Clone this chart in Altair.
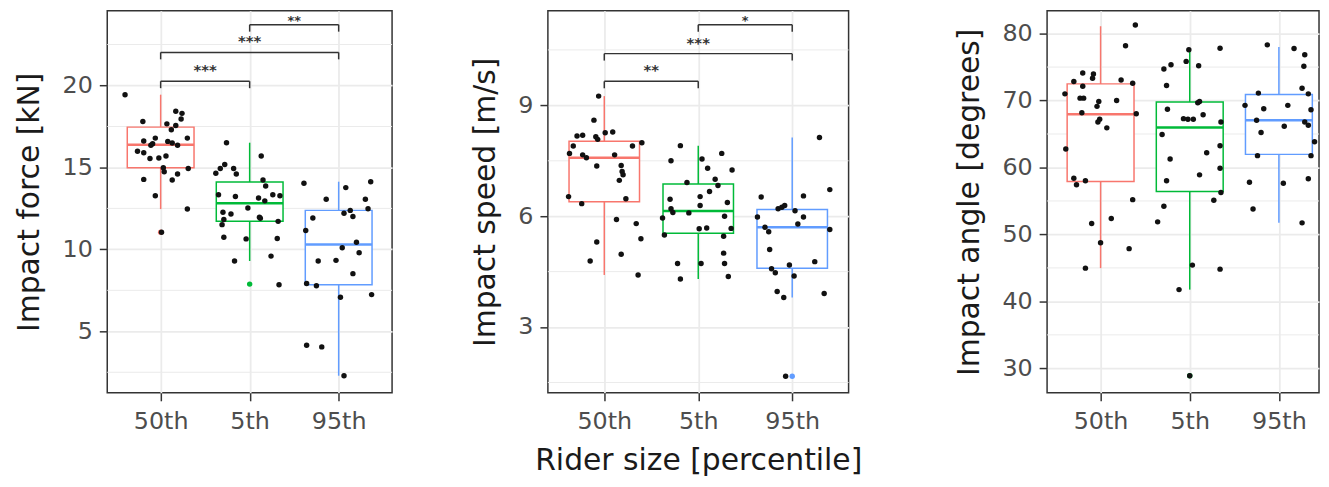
import altair as alt
import pandas as pd

GROUPS = ["50th", "5th", "95th"]
GROUP_COLORS = ["#F8766D", "#00BA38", "#619CFF"]
FONT = "DejaVu Sans"

# ---------------- Panel 1: Impact force [kN] ----------------
force_50_values = [19.44, 18.43, 18.30, 17.96, 17.80, 17.66, 17.56, 17.30, 16.79, 16.79,
                   16.61, 16.45, 16.35, 16.59, 16.49, 16.35, 15.99, 15.90, 15.54, 15.58,
                   15.70, 14.98, 14.74, 14.94, 14.60, 14.23, 14.27, 13.27, 12.46, 11.05]
force_50_jitter = [-0.40, 0.17, 0.24, 0.23, -0.20, 0.07, 0.17, 0.12, 0.30, -0.06,
                   -0.19, -0.09, -0.11, 0.08, 0.13, 0.19, -0.26, -0.19, -0.12, -0.02,
                   0.06, 0.03, 0.04, 0.31, 0.19, 0.13, -0.19, -0.06, 0.30, 0.01]
force_5_values = [16.51, 15.70, 15.18, 14.94, 14.64, 14.94, 14.60, 14.23, 13.87, 13.33,
                  13.23, 13.13, 12.96, 13.33, 13.27, 12.52, 12.26, 12.16, 11.82, 11.51,
                  11.96, 11.90, 11.71, 10.74, 10.64, 10.66, 9.59, 9.29, 7.84]
force_5_jitter = [-0.26, 0.13, -0.28, -0.33, -0.38, -0.18, -0.15, 0.15, 0.18, -0.35,
                  -0.16, 0.10, 0.17, 0.26, 0.34, -0.02, -0.30, -0.21, -0.29, -0.31,
                  0.11, 0.12, 0.32, -0.29, -0.04, 0.31, 0.24, -0.17, 0.33]
force_95_values = [14.03, 13.77, 14.13, 13.06, 13.06, 12.21, 12.38, 12.01, 12.48, 11.91,
                   11.15, 10.44, 10.10, 9.80, 9.29, 9.33, 8.52, 7.92, 7.78, 7.08,
                   7.24, 4.15, 4.05, 2.29]
force_95_jitter = [-0.39, 0.08, 0.36, -0.14, 0.30, 0.06, 0.13, 0.16, 0.33, -0.29,
                   -0.37, 0.20, 0.04, 0.23, -0.23, -0.03, 0.16, -0.36, -0.25, 0.02,
                   0.37, -0.36, -0.19, 0.06]
force_box_lower = [12.46, 9.29, 2.29]
force_box_q1 = [14.98, 11.71, 7.84]
force_box_median = [16.39, 12.82, 10.30]
force_box_q3 = [17.46, 14.11, 12.38]
force_box_upper = [19.44, 16.51, 14.13]
force_outlier_groups = ["50th", "5th"]
force_outlier_values = [11.05, 7.88]
force_bracket_from = ["50th", "50th", "5th"]
force_bracket_to = ["5th", "95th", "95th"]
force_bracket_y = [20.26, 22.02, 23.71]
force_bracket_labels = ["***", "***", "**"]
force_y_ticks = [5, 10, 15, 20]
force_y_minor = [2.5, 7.5, 12.5, 17.5, 22.5]
force_y_domain = [1.245, 24.56]

# ---------------- Panel 2: Impact speed [m/s] ----------------
speed_50_values = [9.25, 8.60, 8.17, 8.19, 8.15, 8.08, 8.26, 8.28, 7.90, 7.90,
                   7.99, 7.70, 7.66, 7.58, 7.66, 7.36, 7.37, 7.21, 7.12, 6.97,
                   6.53, 6.47, 6.34, 5.91, 5.80, 5.39, 5.30, 4.97, 4.79, 4.41]
speed_50_jitter = [-0.06, -0.11, -0.29, -0.23, -0.09, -0.07, 0.01, 0.09, -0.33, 0.30,
                   0.40, -0.37, -0.23, -0.19, 0.11, -0.08, 0.18, 0.19, 0.20, 0.16,
                   -0.38, 0.23, -0.24, 0.13, 0.34, 0.39, -0.08, 0.18, -0.15, 0.36]
speed_5_values = [7.91, 7.50, 7.55, 7.70, 7.30, 7.25, 7.00, 6.83, 6.91, 6.67,
                  6.53, 6.46, 6.37, 6.29, 6.20, 6.10, 6.09, 5.95, 6.00, 5.66,
                  5.68, 5.67, 5.49, 5.46, 5.00, 4.72, 4.72, 4.72, 4.30, 4.37]
speed_5_jitter = [-0.19, -0.29, 0.04, 0.25, 0.10, 0.36, 0.18, 0.21, -0.12, 0.12,
                  0.02, -0.30, 0.31, 0.02, -0.29, -0.27, -0.10, -0.38, 0.28, 0.01,
                  0.09, 0.35, -0.36, 0.27, 0.27, -0.22, 0.03, 0.28, -0.19, 0.32]
speed_95_values = [8.13, 6.72, 6.52, 6.55, 6.20, 6.24, 6.29, 6.15, 5.98, 5.98,
                   5.79, 5.70, 5.58, 5.64, 5.10, 4.77, 4.68, 4.58, 4.47, 4.38,
                   3.96, 3.80, 3.91, 1.67]
speed_95_jitter = [0.29, 0.40, -0.33, 0.12, -0.15, -0.11, -0.08, 0.03, 0.12, -0.37,
                   0.06, -0.29, -0.25, 0.40, -0.24, 0.24, -0.03, -0.22, -0.18, 0.02,
                   -0.16, -0.09, 0.34, -0.07]
speed_box_lower = [4.41, 4.30, 3.80]
speed_box_q1 = [6.39, 5.54, 4.59]
speed_box_median = [7.58, 6.14, 5.70]
speed_box_q3 = [8.03, 6.87, 6.18]
speed_box_upper = [9.25, 7.91, 8.13]
speed_outlier_groups = ["95th"]
speed_outlier_values = [1.67]
speed_bracket_from = ["50th", "50th", "5th"]
speed_bracket_to = ["5th", "95th", "95th"]
speed_bracket_y = [9.65, 10.40, 11.18]
speed_bracket_labels = ["**", "***", "*"]
speed_y_ticks = [3, 6, 9]
speed_y_minor = [1.5, 4.5, 7.5, 10.5]
speed_y_domain = [1.219, 11.56]

# ---------------- Panel 3: Impact angle [degrees] ----------------
angle_50_values = [81.29, 78.18, 74.12, 73.97, 73.33, 72.84, 72.14, 73.08, 72.59, 71.00,
                   70.36, 70.36, 69.87, 69.13, 70.02, 68.19, 68.04, 67.21, 66.81, 65.92,
                   62.76, 58.40, 57.42, 58.02, 55.20, 51.64, 52.38, 48.77, 47.88, 44.97]
angle_50_jitter = [0.39, 0.28, -0.20, -0.08, -0.09, -0.30, -0.20, 0.23, 0.36, -0.40,
                   -0.23, -0.19, -0.02, -0.04, 0.18, -0.21, 0.40, -0.01, -0.03, 0.07,
                   -0.39, -0.30, -0.27, -0.17, 0.36, -0.10, 0.12, 0.00, 0.32, -0.17]
angle_5_values = [77.58, 77.82, 74.71, 75.36, 75.85, 75.21, 72.25, 69.67, 69.87, 68.69,
                  67.89, 67.30, 67.21, 67.21, 66.81, 64.93, 63.25, 61.28, 62.21, 59.89,
                  58.90, 58.01, 56.28, 55.10, 54.21, 51.88, 45.42, 44.82, 41.76, 28.90]
angle_5_jitter = [-0.01, 0.34, -0.29, -0.21, -0.04, 0.10, -0.26, 0.09, 0.11, -0.25,
                  0.15, -0.07, -0.02, 0.04, 0.35, -0.31, 0.34, -0.22, 0.19, 0.34,
                  0.11, -0.26, 0.35, 0.27, -0.29, -0.36, 0.03, 0.34, -0.12, 0.00]
angle_95_values = [78.32, 77.78, 76.84, 75.11, 71.85, 71.00, 71.11, 69.28, 68.78, 69.28,
                   68.63, 67.06, 66.17, 66.81, 66.32, 65.23, 63.84, 61.77, 61.77, 57.81,
                   57.66, 58.31, 53.81, 51.73]
angle_95_jitter = [-0.13, 0.17, 0.29, 0.28, 0.26, 0.33, -0.23, -0.38, -0.17, 0.10,
                   0.36, -0.25, 0.06, 0.29, 0.33, -0.20, 0.40, -0.24, 0.36, -0.33,
                   0.05, 0.33, -0.29, 0.26]
angle_box_lower = [44.97, 41.76, 51.73]
angle_box_q1 = [57.91, 56.43, 61.96]
angle_box_median = [67.94, 65.97, 67.06]
angle_box_q3 = [72.49, 69.77, 70.91]
angle_box_upper = [81.10, 77.80, 78.00]
angle_outlier_groups = ["5th"]
angle_outlier_values = [28.90]
angle_y_ticks = [30, 40, 50, 60, 70, 80]
angle_y_minor = [35, 45, 55, 65, 75]
angle_y_domain = [26.34, 83.41]

X_TITLE = "Rider size [percentile]"

# ---------------- style constants ----------------
PLOT_HEIGHT = 385
BOX_HALF = 0.375
TIP_PX = 7
POINT_SIZE = 30
LABEL_DY = -6       # offset of significance labels above their bracket
TOP_LABEL_DY = 0    # the topmost label sits closer so it stays inside the frame


def make_panel(values, jitters, box, outliers, brackets, y_domain, y_ticks, y_minor,
               y_title, x_title, width, x_max):
    idx = {g: i for i, g in enumerate(GROUPS)}
    rows = []
    for g in GROUPS:
        for v, j in zip(values[g], jitters[g]):
            rows.append({"group": g, "xpos": idx[g] + j, "value": v})
    pts = pd.DataFrame(rows)

    lower, q1, med, q3, upper = box
    box_df = pd.DataFrame({
        "group": GROUPS,
        "xc": [idx[g] for g in GROUPS],
        "lower": lower, "q1": q1, "median": med, "q3": q3, "upper": upper,
    })
    box_df["xl"] = box_df["xc"] - BOX_HALF
    box_df["xr"] = box_df["xc"] + BOX_HALF

    out_groups, out_values = outliers
    out_df = pd.DataFrame({"group": out_groups,
                           "xc": [idx[g] for g in out_groups],
                           "value": out_values})

    minor_df = pd.DataFrame({"minor": y_minor})

    label_expr = "[" + ",".join("'" + g + "'" for g in GROUPS) + "][datum.value]"
    x_scale = alt.Scale(domain=[-0.6, x_max], nice=False, zero=False)
    y_scale = alt.Scale(domain=y_domain, nice=False, zero=False)
    x_axis = alt.Axis(values=[0, 1, 2], labelExpr=label_expr, title=x_title,
                      grid=True, domain=False)
    y_axis = alt.Axis(values=y_ticks, title=y_title, grid=True, domain=False)

    def X(f):
        return alt.X(f, type="quantitative", scale=x_scale, axis=x_axis)

    def Y(f):
        return alt.Y(f, type="quantitative", scale=y_scale, axis=y_axis)

    gscale = alt.Scale(domain=GROUPS, range=GROUP_COLORS)
    color = alt.Color("group:N", scale=gscale, legend=None)

    layers = []
    layers.append(alt.Chart(minor_df).mark_rule(color="#ebebeb", strokeWidth=1)
                  .encode(y=Y("minor")))
    layers.append(alt.Chart(box_df).mark_rule(strokeWidth=1.5)
                  .encode(x=X("xc"), y=Y("lower"), y2=alt.Y2("upper"), color=color))
    layers.append(alt.Chart(box_df).mark_rect(fill="white", strokeWidth=1.5)
                  .encode(x=X("xl"), x2=alt.X2("xr"), y=Y("q1"), y2=alt.Y2("q3"),
                          stroke=alt.Stroke("group:N", scale=gscale, legend=None)))
    layers.append(alt.Chart(box_df).mark_rule(strokeWidth=2.5)
                  .encode(x=X("xl"), x2=alt.X2("xr"), y=Y("median"), color=color))
    layers.append(alt.Chart(out_df).mark_circle(size=POINT_SIZE, opacity=1)
                  .encode(x=X("xc"), y=Y("value"), color=color))
    layers.append(alt.Chart(pts).mark_circle(size=POINT_SIZE, opacity=1, color="#111111")
                  .encode(x=X("xpos"), y=Y("value")))

    if brackets is not None:
        b_from, b_to, b_y, b_lab = brackets
        tip = TIP_PX * (y_domain[1] - y_domain[0]) / PLOT_HEIGHT
        br_df = pd.DataFrame({
            "x1": [idx[g] for g in b_from],
            "x2": [idx[g] for g in b_to],
            "yb": b_y,
            "label": b_lab,
        })
        br_df["xm"] = (br_df["x1"] + br_df["x2"]) / 2
        top_y = max(b_y)
        tips = []
        for _, r in br_df.iterrows():
            tips.append({"xt": r["x1"], "yb": r["yb"], "ytip": r["yb"] - tip})
            tips.append({"xt": r["x2"], "yb": r["yb"], "ytip": r["yb"] - tip})
        tip_df = pd.DataFrame(tips)
        layers.append(alt.Chart(br_df).mark_rule(color="#333333", strokeWidth=1.5)
                      .encode(x=X("x1"), x2=alt.X2("x2"), y=Y("yb")))
        layers.append(alt.Chart(tip_df).mark_rule(color="#333333", strokeWidth=1.5)
                      .encode(x=X("xt"), y=Y("yb"), y2=alt.Y2("ytip")))
        lower_df = br_df[br_df["yb"] < top_y]
        top_df = br_df[br_df["yb"] >= top_y]
        layers.append(alt.Chart(lower_df).mark_text(font=FONT, fontSize=15, color="#333333",
                                                    baseline="alphabetic", dy=LABEL_DY,
                                                    clip=True, fontWeight="bold")
                      .encode(x=X("xm"), y=Y("yb"), text="label:N"))
        layers.append(alt.Chart(top_df).mark_text(font=FONT, fontSize=13, color="#333333",
                                                  baseline="alphabetic", dy=TOP_LABEL_DY,
                                                  clip=True, fontWeight="bold")
                      .encode(x=X("xm"), y=Y("yb"), text="label:N"))

    return alt.layer(*layers).properties(width=width, height=PLOT_HEIGHT)


p1 = make_panel(
    {"50th": force_50_values, "5th": force_5_values, "95th": force_95_values},
    {"50th": force_50_jitter, "5th": force_5_jitter, "95th": force_95_jitter},
    (force_box_lower, force_box_q1, force_box_median, force_box_q3, force_box_upper),
    (force_outlier_groups, force_outlier_values),
    (force_bracket_from, force_bracket_to, force_bracket_y, force_bracket_labels),
    force_y_domain, force_y_ticks, force_y_minor,
    "Impact force [kN]", None, 287, 2.6)

p2 = make_panel(
    {"50th": speed_50_values, "5th": speed_5_values, "95th": speed_95_values},
    {"50th": speed_50_jitter, "5th": speed_5_jitter, "95th": speed_95_jitter},
    (speed_box_lower, speed_box_q1, speed_box_median, speed_box_q3, speed_box_upper),
    (speed_outlier_groups, speed_outlier_values),
    (speed_bracket_from, speed_bracket_to, speed_bracket_y, speed_bracket_labels),
    speed_y_domain, speed_y_ticks, speed_y_minor,
    "Impact speed [m/s]", X_TITLE, 303, 2.6)

p3 = make_panel(
    {"50th": angle_50_values, "5th": angle_5_values, "95th": angle_95_values},
    {"50th": angle_50_jitter, "5th": angle_5_jitter, "95th": angle_95_jitter},
    (angle_box_lower, angle_box_q1, angle_box_median, angle_box_q3, angle_box_upper),
    (angle_outlier_groups, angle_outlier_values),
    None,
    angle_y_domain, angle_y_ticks, angle_y_minor,
    "Impact angle [degrees]", None, 274, 2.45)

chart = (
    alt.hconcat(alt.hconcat(p1, p2, spacing=75), p3, spacing=90)
    .properties(padding={"left": 5, "top": 0, "right": 0, "bottom": 0},
                background="white")
    .configure_view(stroke="#333333", strokeWidth=1.5)
    .configure_axis(labelFont=FONT, titleFont=FONT, labelFontSize=24, titleFontSize=30,
                    labelColor="#4d4d4d", titleColor="#1a1a1a", titleFontWeight="normal",
                    gridColor="#ebebeb", gridWidth=1.8, tickColor="#333333", tickWidth=1.5,
                    tickSize=8, labelPadding=7, titlePadding=18)
    .configure_axisX(labelPadding=9, titlePadding=12)
)

chart.save("out.html", embed_options={"renderer": "svg", "actions": False})
